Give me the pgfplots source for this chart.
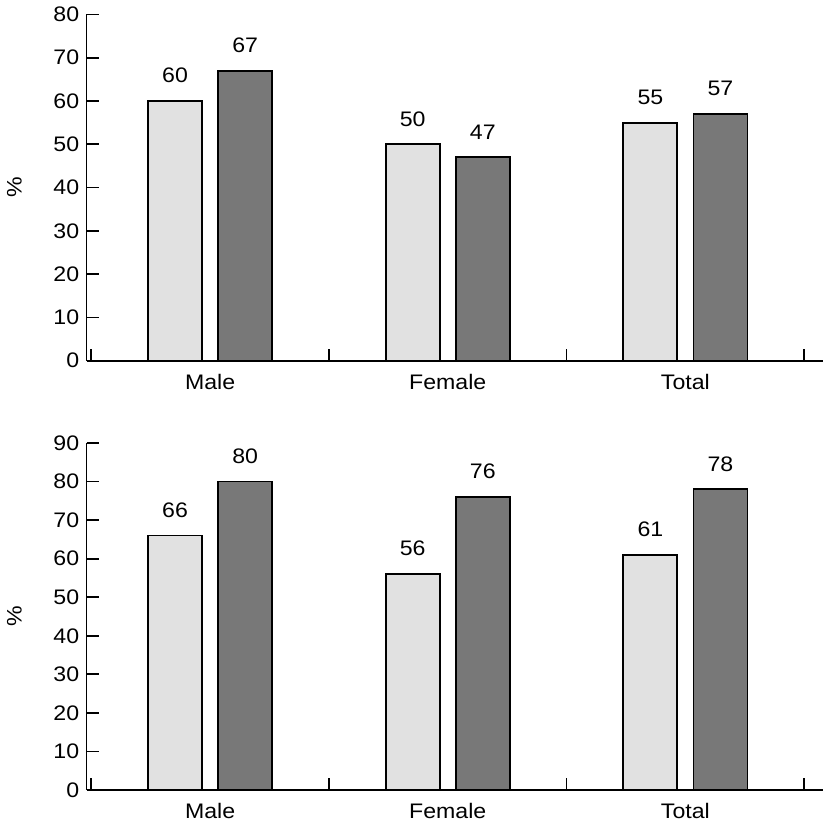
\documentclass[border=0pt]{standalone}
\usepackage{fontspec}
\setmainfont{Liberation Sans}[FakeStretch=1.1]
\usepackage{pgfplots}
\pgfplotsset{compat=1.18}
\definecolor{barlight}{HTML}{E1E1E1}
\definecolor{bardark}{HTML}{787878}

\pgfplotsset{
  panel/.style={
    scale only axis, width=368pt, height=173pt,
    axis x line=bottom, axis y line=left,
    axis line style={-, line width=0.9pt},
    xmin=-0.02, xmax=3.08, ymin=0,
    tick align=inside,
    major tick length=6pt,
    tick style={black, line width=0.9pt},
    % group boundaries: ticks without labels, pointing up into the plot
    xtick={0,1,2,3}, xticklabels={},
    major x tick style={yshift=6pt},
    % group names: labels without ticks
    extra x ticks={0.5,1.5,2.5},
    extra x tick labels={Male,Female,Total},
    extra x tick style={major tick length=0pt, tick style={draw=none}},
    xticklabel style={yshift=-3pt},
    ytick distance=10,
    ylabel={\%},
    ylabel style={at={(axis description cs:-0.098,0.5)}, anchor=center},
    ybar, bar width=27pt,
    nodes near coords,
    every node near coord/.append style={yshift=5pt, black},
    /pgf/number format/assume math mode=true,
    clip=false,
  },
  lightbar/.style={draw=black, fill=barlight, line width=0.9pt, bar shift=-17.5pt},
  darkbar/.style={draw=black, fill=bardark, line width=0.9pt, bar shift=17.5pt},
}

\begin{document}
\fontsize{10.5}{12.6}\selectfont
\begin{tikzpicture}
% top panel
\begin{axis}[panel, ymax=80]
  \addplot[lightbar] coordinates {(0.5,60) (1.5,50) (2.5,55)};
  \addplot[darkbar] coordinates {(0.5,67) (1.5,47) (2.5,57)};
\end{axis}
% bottom panel
\begin{axis}[panel, ymax=90, at={(0pt,-214.5pt)}, height=173.5pt]
  \addplot[lightbar] coordinates {(0.5,66) (1.5,56) (2.5,61)};
  \addplot[darkbar] coordinates {(0.5,80) (1.5,76) (2.5,78)};
\end{axis}
\end{tikzpicture}
\end{document}
